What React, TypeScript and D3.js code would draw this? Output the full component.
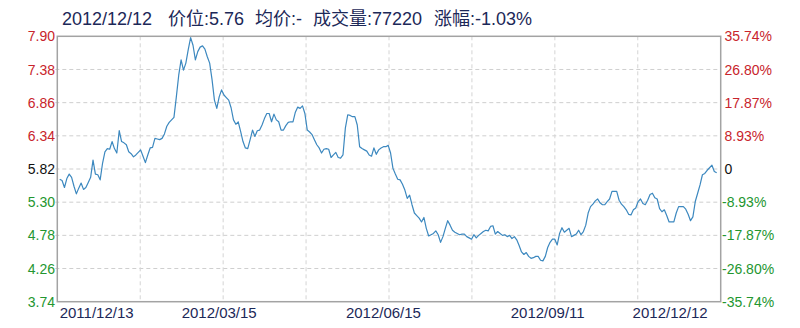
import React from "react";
import * as d3 from "d3";

const headerDate = "2012/12/12";
const headerPrice = "价位:5.76";
const headerAvg = "均价:-";
const headerVolume = "成交量:77220";
const headerChange = "涨幅:-1.03%";

const basePrice = 5.82;
const priceTicks = [7.9, 7.38, 6.86, 6.34, 5.82, 5.3, 4.78, 4.26, 3.74];
const pctTicks = ["35.74%", "26.80%", "17.87%", "8.93%", "0", "-8.93%", "-17.87%", "-26.80%", "-35.74%"];

const dateLabels = ["2011/12/13", "2012/03/15", "2012/06/15", "2012/09/11", "2012/12/12"];
const dateLabelIndex = [0, 67, 136, 205, 276];

const pricesWinter = [
  5.66, 5.64, 5.53, 5.67, 5.74, 5.69, 5.55, 5.43, 5.52, 5.6, 5.5, 5.53, 5.61, 5.69, 5.96, 5.74,
  5.73, 5.65, 5.91, 6.09, 6.14, 6.13, 6.25, 6.14, 6.07, 6.42, 6.25, 6.23, 6.2, 6.09, 6.06, 6.01,
];
const pricesSpring = [
  6.04, 6.08, 6.12, 6.02, 5.92, 6.04, 6.15, 6.16, 6.3, 6.29, 6.28, 6.3, 6.37, 6.49, 6.55, 6.59,
  6.63, 6.95, 7.29, 7.53, 7.37, 7.48, 7.69, 7.88, 7.76, 7.53, 7.66, 7.73, 7.75, 7.7, 7.58, 7.48,
  7.22, 6.9,
];
const pricesEarlySummer = [
  6.77, 6.95, 7.06, 6.98, 6.94, 6.9, 6.78, 6.59, 6.52, 6.56, 6.41, 6.25, 6.15, 6.14, 6.28, 6.43,
  6.33, 6.42, 6.43, 6.51, 6.61, 6.69, 6.69, 6.56, 6.68, 6.59, 6.56, 6.43, 6.43, 6.5, 6.55, 6.56,
  6.56, 6.71, 6.79, 6.77, 6.81, 6.69, 6.43, 6.4, 6.36, 6.28, 6.2, 6.15, 6.07, 6.13, 6.14, 6.13,
  6.0, 6.04, 6.08, 6.0, 5.99, 6.04, 6.46, 6.67, 6.66, 6.64, 6.64, 6.51, 6.17, 6.14, 6.12,
];
const pricesSummer = [
  6.1, 6.04, 6.02, 6.15, 6.05, 6.12, 6.15, 6.17, 6.17, 6.19, 6.07, 5.83, 5.74, 5.66, 5.65, 5.58,
  5.49, 5.36, 5.41, 5.26, 5.13, 5.09, 5.05, 4.99, 5.06, 4.89, 4.77, 4.79, 4.81, 4.85, 4.79, 4.67,
  4.76, 4.89, 5.01, 4.94, 4.86, 4.83, 4.81, 4.79, 4.8, 4.8, 4.76, 4.74, 4.72, 4.79, 4.74, 4.78,
  4.81, 4.84, 4.86, 4.85, 4.92, 4.93, 4.8, 4.84, 4.81, 4.78, 4.79, 4.76, 4.78, 4.73, 4.76, 4.71,
  4.62, 4.52, 4.48, 4.51, 4.45,
];
const pricesAutumn = [
  4.42, 4.43, 4.45, 4.45, 4.39, 4.38, 4.45, 4.59, 4.67, 4.72, 4.72, 4.63, 4.81, 4.9, 4.83, 4.86,
  4.89, 4.76, 4.78, 4.8, 4.86, 4.79, 4.84, 4.94, 5.13, 5.23, 5.27, 5.32, 5.35, 5.29, 5.26, 5.26,
  5.31, 5.35, 5.47, 5.47, 5.47, 5.33, 5.27, 5.23, 5.18, 5.11, 5.1, 5.18, 5.21, 5.31, 5.35, 5.28,
  5.26, 5.33, 5.42, 5.44, 5.37, 5.35, 5.2, 5.15, 5.18, 5.09, 4.99, 4.99, 4.99, 5.13, 5.23, 5.23,
  5.23, 5.19, 5.11, 5.01, 5.07, 5.31, 5.44, 5.57, 5.73, 5.75, 5.8, 5.84, 5.88, 5.78, 5.76,
];

const prices = [...pricesWinter, ...pricesSpring, ...pricesEarlySummer, ...pricesSummer, ...pricesAutumn];

const W = 800;
const H = 328;
const plotLeft = 57.3;
const plotRight = 720.7;
const plotTop = 36.3;
const plotBottom = 301.7;

const RED = "#c8242c";
const GREEN = "#23962f";
const NAVY = "#1c2858";
const FONT = "'Liberation Sans', Arial, 'Noto Sans CJK SC', sans-serif";

export default function App() {
  const x = d3.scaleLinear().domain([0, prices.length - 1]).range([59.7, 716.7]);
  const y = d3.scaleLinear().domain([priceTicks[priceTicks.length - 1], priceTicks[0]]).range([plotBottom, plotTop]);
  const line = d3
    .line<number>()
    .x((_, i) => x(i))
    .y((d) => y(d));

  const colorFor = (v: number) => (Math.abs(v - basePrice) < 1e-9 ? "#111" : v > basePrice ? RED : GREEN);
  const vGrid = d3.range(1, 8).map((k) => plotLeft + (k * (plotRight - plotLeft)) / 8);

  const headerItems = [
    { t: headerDate, x: 62 },
    { t: headerPrice, x: 168 },
    { t: headerAvg, x: 255 },
    { t: headerVolume, x: 313 },
    { t: headerChange, x: 434 },
  ];

  return (
    <svg
      width={W}
      height={H}
      style={{ position: "absolute", left: 0, top: 0, display: "block", background: "#fff" }}
      fontFamily={FONT}
    >
      <rect x={0} y={0} width={W} height={H} fill="#fff" />
      {headerItems.map((h, i) => (
        <text key={i} x={h.x} y={25} fontSize={18} fill={NAVY}>
          {h.t}
        </text>
      ))}

      {/* grid */}
      {priceTicks.slice(1, -1).map((v, i) => (
        <line
          key={"h" + i}
          x1={plotLeft - 2}
          x2={plotRight}
          y1={y(v)}
          y2={y(v)}
          stroke="#cfcfcf"
          strokeDasharray="4,3"
        />
      ))}
      {vGrid.map((gx, i) => (
        <line key={"v" + i} x1={gx} x2={gx} y1={plotTop} y2={plotBottom} stroke="#d4d4d4" strokeDasharray="4,3" />
      ))}

      <rect
        x={plotLeft}
        y={plotTop}
        width={plotRight - plotLeft}
        height={plotBottom - plotTop}
        fill="none"
        stroke="#a3a3a3"
        strokeWidth={1.5}
      />

      <path d={line(prices) || ""} fill="none" stroke="#3c88bf" strokeWidth={1.2} strokeLinejoin="round" />

      {/* left axis */}
      {priceTicks.map((v, i) => (
        <text key={"l" + i} x={55} y={y(v)} dy="0.36em" textAnchor="end" fontSize={14} fill={colorFor(v)}>
          {v.toFixed(2)}
        </text>
      ))}
      {/* right axis */}
      {pctTicks.map((p, i) => (
        <text
          key={"r" + i}
          x={p.startsWith("-") ? 722 : 724.5}
          y={y(priceTicks[i])}
          dy="0.36em"
          textAnchor="start"
          fontSize={14}
          fill={colorFor(priceTicks[i])}
        >
          {p}
        </text>
      ))}

      {/* bottom labels */}
      {dateLabels.map((d, i) => {
        const idx = dateLabelIndex[i];
        const first = i === 0;
        const last = i === dateLabels.length - 1;
        return (
          <text
            key={"d" + i}
            x={last ? x(idx) - 9 : x(idx)}
            y={318}
            fontSize={15}
            fill={NAVY}
            textAnchor={first ? "start" : last ? "end" : "middle"}
          >
            {d}
          </text>
        );
      })}
    </svg>
  );
}
